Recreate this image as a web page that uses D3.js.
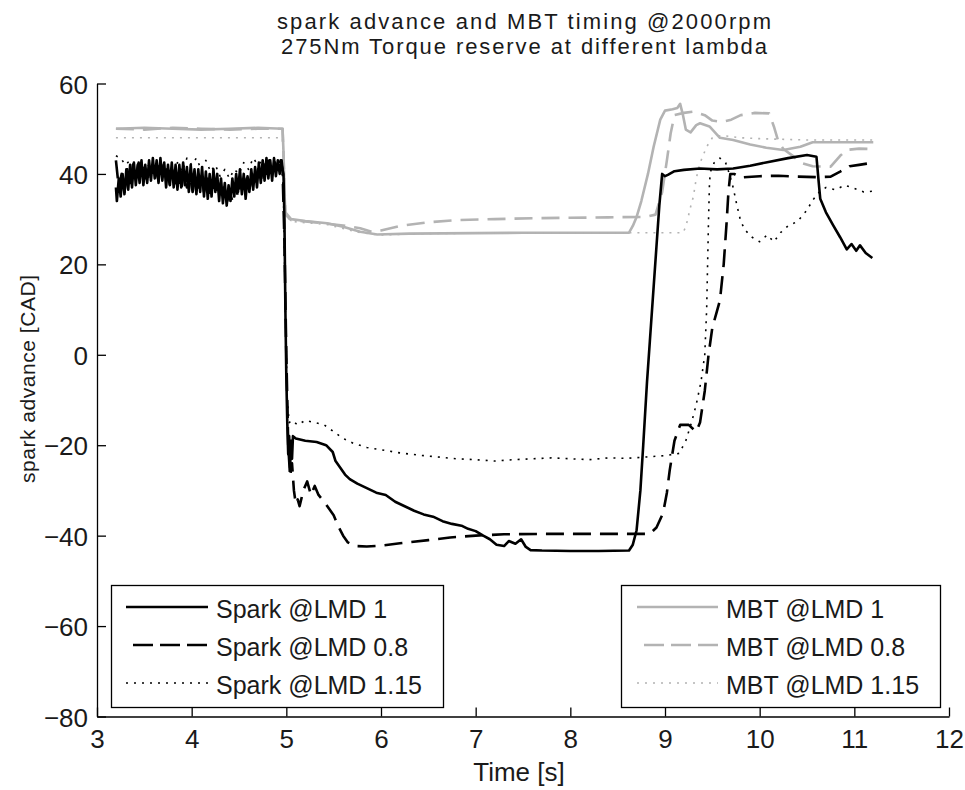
<!DOCTYPE html>
<html>
<head>
<meta charset="utf-8">
<script src="https://cdn.jsdelivr.net/npm/d3@7/dist/d3.min.js"></script>
<style>
  html, body { margin: 0; padding: 0; background: #fff; }
  svg { display: block; font-family: "Liberation Sans", Arial, sans-serif; }
</style>
</head>
<body>
<svg id="chart" width="965" height="790"></svg>
<script>
// ---------------- DATA ----------------
const titleLines = ["spark advance and MBT timing @2000rpm", "275Nm Torque reserve at different lambda"];
const xLabel = "Time [s]";
const yLabel = "spark advance [CAD]";
const xTicks = [3, 4, 5, 6, 7, 8, 9, 10, 11, 12];
const yTicks = [-80, -60, -40, -20, 0, 20, 40, 60];
const sparkLabels = ["Spark @LMD 1", "Spark @LMD 0.8", "Spark @LMD 1.15"];
const mbtLabels = ["MBT @LMD 1", "MBT @LMD 0.8", "MBT @LMD 1.15"];

// [time s, spark advance CAD]
const sparkLmd1 = [
  [3.20,37],[3.21,34],[3.23,39],[3.25,35],[3.27,40],[3.29,35.5],[3.31,41],[3.33,36.5],[3.35,42],[3.37,37],
  [3.39,42.5],[3.41,37.5],[3.43,42],[3.45,38],[3.47,43],[3.49,37.5],[3.51,42],[3.53,38],[3.55,43],[3.57,38.5],
  [3.59,43.5],[3.61,39],[3.63,43],[3.65,38],[3.67,43.5],[3.69,38.5],[3.71,42.5],[3.73,37],[3.75,42],[3.77,37.5],
  [3.79,42.5],[3.81,37],[3.83,42],[3.85,36.5],[3.87,42],[3.89,37],[3.91,42.5],[3.93,37.5],[3.95,41.5],[3.97,36],
  [3.99,42],[4.01,37],[4.03,41],[4.05,35.5],[4.07,41],[4.09,36],[4.11,41.5],[4.13,35],[4.15,40.5],[4.17,34.5],
  [4.19,40],[4.21,35],[4.23,41],[4.25,36],[4.27,40],[4.29,34],[4.31,39],[4.33,33.5],[4.35,38],[4.37,33],
  [4.39,37.5],[4.41,34],[4.43,39],[4.45,35],[4.47,40],[4.49,36],[4.51,41],[4.53,35.5],[4.55,40],[4.57,34.5],
  [4.59,39.5],[4.61,36],[4.63,41],[4.65,36.5],[4.67,41.5],[4.69,37],[4.71,42.5],[4.73,38],[4.75,43],[4.77,38.5],
  [4.79,43.5],[4.81,39],[4.83,43],[4.85,38.5],[4.87,43.5],[4.89,39.5],[4.91,43],[4.93,40],[4.95,43],[4.96,41],
  [4.97,40],[4.98,30],[4.99,10],[5.00,-5],[5.01,-15],[5.02,-22],[5.03,-18],[5.04,-25],[5.05,-19],[5.06,-23],
  [5.07,-18],[5.10,-18.5],[5.20,-19],[5.32,-19.3],[5.42,-20],[5.49,-21.5],[5.52,-23.5],[5.57,-25],[5.62,-26.5],
  [5.67,-27.5],[5.75,-28.5],[5.85,-29.5],[5.95,-30.5],[6.05,-31],[6.15,-32.5],[6.25,-33.5],[6.35,-34.5],
  [6.45,-35.3],[6.55,-35.8],[6.65,-36.8],[6.75,-37.4],[6.85,-37.8],[6.92,-38.5],[7.00,-39],[7.08,-40],
  [7.15,-40.8],[7.22,-42],[7.30,-42.3],[7.35,-41.2],[7.42,-41.8],[7.48,-40.8],[7.53,-42.5],[7.58,-43.2],
  [7.70,-43.3],[8.00,-43.4],[8.30,-43.4],[8.62,-43.3],[8.66,-42],[8.70,-38.8],[8.74,-30],[8.77,-20],
  [8.81,-6],[8.84,3],[8.88,15],[8.91,24],[8.94,33],[8.97,40],[9.00,39.5],[9.03,39.8],[9.10,40.6],[9.20,40.9],
  [9.37,41.2],[9.55,41],[9.72,41.2],[9.90,41.8],[10.08,42.6],[10.30,43.5],[10.50,44.2],[10.60,43.8],
  [10.62,39],[10.64,34.5],[10.70,31.5],[10.78,28.5],[10.85,26],[10.92,23.3],[10.97,24.5],[11.02,23],
  [11.06,24.2],[11.12,22.5],[11.19,21.4]
];

const sparkLmd08 = [
  [3.20,43],[3.23,37],[3.26,40],[3.29,36],[3.32,41],[3.35,38],[3.38,42],[3.41,39],[3.44,42.5],[3.47,39],
  [3.50,41],[3.53,38],[3.56,41.5],[3.59,39],[3.62,41],[3.65,38.5],[3.68,42],[3.71,39],[3.74,41],[3.77,37.5],
  [3.80,40.5],[3.83,37],[3.86,40],[3.89,36.5],[3.92,40.5],[3.95,37],[3.98,40],[4.01,36],[4.04,39.5],[4.07,37],
  [4.10,40],[4.13,36],[4.16,39],[4.19,35],[4.22,38.5],[4.25,35.5],[4.28,38],[4.31,34.5],[4.34,37],[4.37,33.5],
  [4.40,36],[4.43,34],[4.46,37.5],[4.49,35],[4.52,38.5],[4.55,35.5],[4.58,39],[4.61,36.5],[4.64,40],[4.67,37.5],
  [4.70,41],[4.73,38.5],[4.76,42],[4.79,39.5],[4.82,43],[4.85,40],[4.88,42.5],[4.91,41],[4.94,43],[4.96,41],
  [4.98,25],[5.00,0],[5.02,-20],[5.04,-27],[5.06,-24],[5.08,-30],[5.10,-33],[5.12,-32],[5.14,-33.5],
  [5.18,-30],[5.22,-28],[5.26,-31],[5.30,-29],[5.34,-31],[5.40,-32.5],[5.45,-34],[5.50,-35.5],[5.55,-38],
  [5.60,-40],[5.65,-41.5],[5.72,-42.3],[5.85,-42.4],[6.00,-42.2],[6.20,-41.7],[6.50,-41],[6.73,-40.4],
  [7.00,-40],[7.30,-39.7],[7.80,-39.6],[8.40,-39.6],[8.84,-39.6],[8.91,-38.2],[8.98,-35],[9.02,-30.5],
  [9.05,-25.5],[9.10,-19],[9.16,-15.5],[9.25,-15.5],[9.33,-17],[9.37,-15],[9.42,-8],[9.46,0],[9.50,6],
  [9.54,9],[9.58,12],[9.62,20],[9.65,29],[9.67,36],[9.69,40],[9.73,40],[9.80,39.2],[10.00,39.5],
  [10.20,39.6],[10.40,39.4],[10.60,39.3],[10.75,39.4],[10.85,40.5],[10.95,41.7],[11.05,42],[11.20,42.5]
];

const sparkLmd115 = [
  [3.20,44],[3.25,43.5],[3.30,42],[3.35,43],[3.40,41.5],[3.45,42.5],[3.50,41],[3.55,42],[3.60,40.5],
  [3.65,42],[3.70,40],[3.75,41.5],[3.80,40],[3.85,42.5],[3.90,40.5],[3.95,43.5],[4.00,42],[4.05,43.5],
  [4.10,41],[4.15,43],[4.20,40.5],[4.25,42],[4.30,39.5],[4.35,41],[4.40,39],[4.45,41],[4.50,40],
  [4.55,42.5],[4.60,41],[4.65,43.5],[4.70,42],[4.75,43],[4.80,41.5],[4.85,43],[4.90,42],[4.95,43],
  [4.97,35],[4.99,10],[5.01,-10],[5.03,-15],[5.06,-14.5],[5.12,-15.5],[5.20,-14.5],[5.30,-15],[5.40,-15.5],
  [5.50,-17],[5.60,-18.5],[5.70,-19.5],[5.85,-20.5],[6.00,-21],[6.20,-21.7],[6.40,-22.2],[6.60,-22.6],
  [6.80,-23],[7.00,-23.2],[7.20,-23.5],[7.40,-23.2],[7.60,-23],[7.80,-22.8],[8.00,-23],[8.20,-23.2],
  [8.40,-22.8],[8.60,-22.9],[8.80,-22.6],[9.00,-22.3],[9.15,-21.8],[9.22,-19],[9.28,-15],[9.33,-11],
  [9.38,-6],[9.42,0],[9.44,10],[9.45,20],[9.46,30],[9.47,38],[9.48,40.5],[9.52,42.5],[9.58,43.5],
  [9.64,42.5],[9.68,40],[9.72,37],[9.76,33],[9.80,29.5],[9.85,27.5],[9.92,26],[10.00,25],[10.08,26.5],
  [10.15,25],[10.22,27],[10.30,28.5],[10.40,29.5],[10.50,32],[10.56,34.2],[10.63,36],[10.70,37],
  [10.80,36.5],[10.90,37.5],[11.00,36.8],[11.10,36],[11.20,36.2]
];

const mbtLmd1 = [
  [3.20,50],[3.50,50.2],[3.80,50],[4.10,49.8],[4.40,50],[4.70,50.2],[4.96,50],[4.97,45],[4.98,36],[4.99,31.5],
  [5.05,30],[5.20,29.6],[5.43,29.1],[5.60,28.3],[5.78,27.2],[5.96,26.6],[6.30,26.8],[7.00,26.9],[7.50,27],
  [8.00,27],[8.40,27],[8.62,27],[8.66,28.5],[8.70,30.5],[8.75,34],[8.82,40],[8.88,46],[8.95,52],[9.00,54],
  [9.08,54.3],[9.13,54.6],[9.16,55.5],[9.19,53],[9.22,49.8],[9.27,49.2],[9.33,50.8],[9.37,51.2],[9.47,50.5],
  [9.58,48],[9.72,47.5],[9.90,46.5],[10.07,45.8],[10.25,45.3],[10.43,46],[10.56,47],[10.80,47],[11.20,47]
];

const mbtLmd08 = [
  [3.20,50],[3.50,49.8],[3.80,50.2],[4.10,50],[4.40,49.8],[4.70,50],[4.96,50],[4.97,44],[4.99,31],[5.05,29.8],
  [5.20,29.5],[5.43,29],[5.60,28.6],[5.78,28],[5.90,27.2],[6.00,27.5],[6.20,28.5],[6.50,29.3],[6.80,29.8],
  [7.20,30],[7.60,30.2],[8.00,30.3],[8.40,30.4],[8.80,30.5],[8.90,31],[8.97,36],[9.02,43],[9.06,49],
  [9.10,53],[9.20,53.5],[9.30,53.8],[9.42,53],[9.50,51.8],[9.60,51.5],[9.70,52],[9.80,53],[9.95,53.5],
  [10.10,53.4],[10.15,50.5],[10.20,47],[10.25,45.5],[10.35,44],[10.43,42.5],[10.56,41.7],[10.75,41.6],
  [10.85,44],[10.92,45.3],[11.05,45.6],[11.20,45.5]
];

const mbtLmd115 = [
  [3.20,48],[3.50,48],[3.80,48],[4.10,48],[4.40,48],[4.70,48],[4.96,48],[4.97,40],[4.99,31],[5.05,29.5],
  [5.43,28.8],[5.78,27],[6.00,26.5],[6.50,26.8],[7.00,26.9],[7.50,27],[8.00,27],[8.50,27],[9.00,27],
  [9.19,27],[9.22,28.3],[9.27,32.7],[9.30,35],[9.33,39],[9.37,42.4],[9.44,46],[9.50,48],[9.60,48.5],
  [9.80,48],[10.00,47.8],[10.50,47.5],[11.20,47.5]
];

// ---------------- STYLES / LAYOUT ----------------
const GRAY = "#b3b3b3";
const styles = {
  solid:  { width: 2.6, dash: null },
  dashed: { width: 2.6, dash: "18,9" },
  dotted: { width: 1.6, dash: "2,6" }
};
const series = [
  { data: mbtLmd1,     color: GRAY,   style: "solid"  },
  { data: mbtLmd08,    color: GRAY,   style: "dashed" },
  { data: mbtLmd115,   color: GRAY,   style: "dotted" },
  { data: sparkLmd1,   color: "#000", style: "solid"  },
  { data: sparkLmd08,  color: "#000", style: "dashed" },
  { data: sparkLmd115, color: "#000", style: "dotted" }
];

const svg = d3.select("#chart");
const L = 97, R = 949, T = 83.5, B = 716.5;
const x = d3.scaleLinear().domain([3, 12]).range([L, R]);
const y = d3.scaleLinear().domain([-80, 60]).range([B, T]);

// Title
const titleG = svg.append("g").attr("font-size", 22).attr("fill", "#1a1a1a");
titleG.append("text").attr("x", 524).attr("y", 29).attr("text-anchor", "middle")
  .attr("textLength", 494).attr("lengthAdjust", "spacing").text(titleLines[0]);
titleG.append("text").attr("x", 524).attr("y", 54).attr("text-anchor", "middle")
  .attr("textLength", 486).attr("lengthAdjust", "spacing").text(titleLines[1]);

// Lines
const line = d3.line().x(d => x(d[0])).y(d => y(d[1]));
const plotG = svg.append("g");
series.forEach(s => {
  const st = styles[s.style];
  plotG.append("path")
    .attr("d", line(s.data))
    .attr("fill", "none")
    .attr("stroke", s.color)
    .attr("stroke-width", st.width)
    .attr("stroke-linejoin", "round")
    .attr("stroke-dasharray", st.dash);
});

// Axes
const xAxis = d3.axisBottom(x).tickValues(xTicks).tickSizeInner(-9).tickSizeOuter(0).tickFormat(d3.format("d"));
const yAxis = d3.axisLeft(y).tickValues(yTicks).tickSizeInner(-9).tickSizeOuter(0).tickFormat(d3.format("d"));

const gx = svg.append("g").attr("transform", `translate(0,${B})`).call(xAxis);
const gy = svg.append("g").attr("transform", `translate(${L},0)`).call(yAxis);
[gx, gy].forEach(g => {
  g.select(".domain").attr("stroke", "#000").attr("stroke-width", 1.3);
  g.selectAll(".tick line").attr("stroke", "#000").attr("stroke-width", 1.3);
  g.selectAll(".tick text").attr("fill", "#1a1a1a").attr("font-size", 26)
    .attr("font-family", "Liberation Sans, Arial, sans-serif");
});
gx.selectAll(".tick text").attr("y", 31).attr("dy", null);
gy.selectAll(".tick text").attr("x", -9).attr("dy", "0.37em");

// Axis labels
svg.append("text").attr("x", 519).attr("y", 781).attr("text-anchor", "middle")
  .attr("font-size", 26).attr("fill", "#1a1a1a").text(xLabel);
svg.append("text").attr("transform", "translate(35,379) rotate(-90)")
  .attr("text-anchor", "middle").attr("font-size", 21).attr("fill", "#1a1a1a")
  .attr("textLength", 208).attr("lengthAdjust", "spacing").text(yLabel);

// Legends
function legend(box, labels, color, lineX0, lineX1, textX) {
  const g = svg.append("g");
  g.append("rect").attr("x", box[0] + 0.5).attr("y", box[1] + 0.5)
    .attr("width", box[2] - box[0]).attr("height", box[3] - box[1])
    .attr("fill", "#fff").attr("stroke", "#000").attr("stroke-width", 1.3);
  const keys = ["solid", "dashed", "dotted"];
  const rowBase = [618, 656, 694];
  labels.forEach((lab, i) => {
    const st = styles[keys[i]];
    const ly = rowBase[i] - 11;
    g.append("line").attr("x1", lineX0).attr("x2", lineX1).attr("y1", ly).attr("y2", ly)
      .attr("stroke", color).attr("stroke-width", st.width)
      .attr("stroke-dasharray", keys[i] === "dashed" ? "20,7" : st.dash)
      .attr("stroke-dashoffset", keys[i] === "dashed" ? -7 : 0);
    g.append("text").attr("x", textX).attr("y", rowBase[i]).attr("font-size", 25)
      .attr("fill", "#1a1a1a").text(lab);
  });
}
legend([111, 585, 443, 707], sparkLabels, "#000", 126, 208, 216);
legend([621, 585, 940, 707], mbtLabels, GRAY, 637, 718, 726);
</script>
</body>
</html>
